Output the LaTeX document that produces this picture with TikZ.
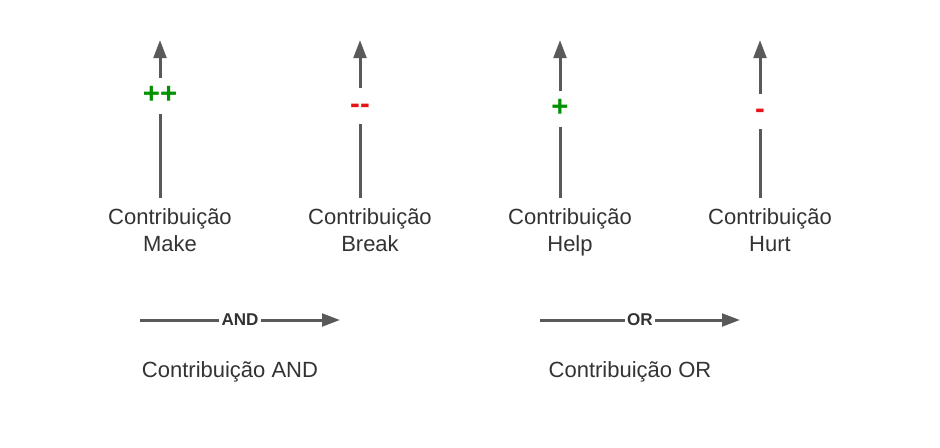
\documentclass[tikz,border=0pt]{standalone}
\usepackage{fontspec}
\setmainfont{Liberation Sans}
\usetikzlibrary{arrows.meta}

\definecolor{linegray}{RGB}{89,89,89}
\definecolor{txtgray}{RGB}{51,51,51}
\definecolor{plusgreen}{RGB}{0,145,0}
\definecolor{minusred}{RGB}{230,20,20}

\tikzset{every picture/.style={line width=0.75pt}}
\tikzset{
  link/.style={draw=linegray, line width=2.25pt},
  linkarrow/.style={link, -{Triangle[length=13.5pt,width=9.5pt]}},
  sign/.style={font=\fontsize{22}{22}\selectfont\bfseries, inner xsep=0pt, inner ysep=2pt, text height=16.5pt, text depth=5.5pt},
  kind/.style={font=\fontsize{16.5}{20.25}\selectfont, text=txtgray, align=center, inner sep=0pt, anchor=base},
  optag/.style={font=\fontsize{12.8}{13}\selectfont\bfseries, text=txtgray, fill=white, inner xsep=1.5pt, inner ysep=1pt},
}

\begin{document}
\begin{tikzpicture}[x=0.75pt,y=0.75pt,yscale=-1,xscale=1]
	\useasboundingbox (0,0) rectangle (940,447);

	% Text Node
	\node[kind] (make) at (170,251) {Contribuição\\Make};
	\node[kind] (break) at (370,251) {Contribuição\\Break};
	\node[kind] (help) at (570,251) {Contribuição\\Help};
	\node[kind] (hurt) at (770,251) {Contribuição\\Hurt};

	% Signs
	\node[sign, text=plusgreen] (makesign) at (160,96) {++};
	\node[sign, text=minusred] (breaksign) at (360,106) {-\mbox{}-};
	\node[sign, text=plusgreen] (helpsign) at (560,109) {+};
	\node[sign, text=minusred] (hurtsign) at (760,111.5) {-};

	% Tips
	\coordinate (maketip) at (160,40);
	\coordinate (breaktip) at (360,40);
	\coordinate (helptip) at (560,40);
	\coordinate (hurttip) at (760,40);

	% Vertical arrows
	\draw[link] ([xshift=-7.5pt,yshift=-7.5pt]make.north) -- (makesign);
	\draw[linkarrow] (makesign) -- (maketip);
	\draw[link] ([xshift=-7.5pt,yshift=-7.5pt]break.north) -- (breaksign);
	\draw[linkarrow] (breaksign) -- (breaktip);
	\draw[link] ([xshift=-7.5pt,yshift=-7.5pt]help.north) -- (helpsign);
	\draw[linkarrow] (helpsign) -- (helptip);
	\draw[link] ([xshift=-7.5pt,yshift=-7.5pt]hurt.north) -- (hurtsign);
	\draw[linkarrow] (hurtsign) -- (hurttip);

	% AND / OR arrows
	\coordinate (andstart) at (140,320);
	\coordinate (andend) at (340,320);
	\node[optag] (andtag) at (240,320) {AND};
	\draw[link] (andstart) -- (andtag);
	\draw[linkarrow] (andtag) -- (andend);

	\coordinate (orstart) at (540,320);
	\coordinate (orend) at (740,320);
	\node[optag] (ortag) at (640,320) {OR};
	\draw[link] (orstart) -- (ortag);
	\draw[linkarrow] (ortag) -- (orend);

	% Captions
	\node[kind] (andcap) at (230,377) {Contribuição AND};
	\node[kind] (orcap) at (630,377) {Contribuição OR};

\end{tikzpicture}
\end{document}
